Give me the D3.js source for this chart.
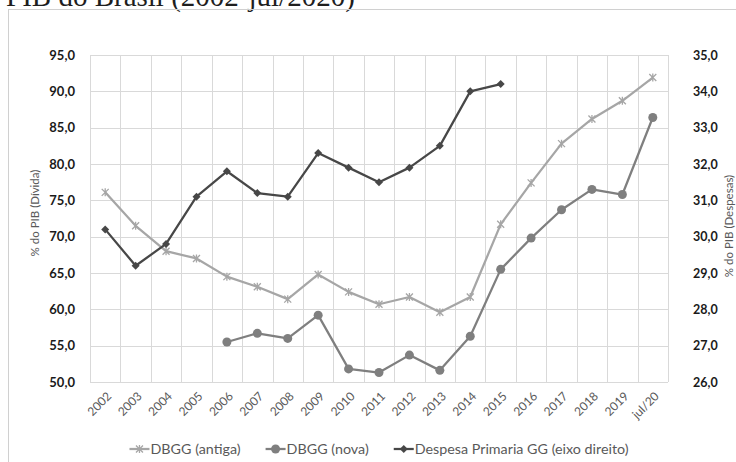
<!DOCTYPE html>
<html><head><meta charset="utf-8">
<script src="https://cdn.jsdelivr.net/npm/d3@7"></script>
<style>body{margin:0;background:#fff}svg{display:block}</style>
</head><body><svg id="c" width="736" height="462"></svg>
<script>
const categories = ["2002","2003","2004","2005","2006","2007","2008","2009","2010","2011","2012","2013","2014","2015","2016","2017","2018","2019","jul/20"];
const dbggAntiga = [76.1,71.5,68.0,67.0,64.5,63.1,61.4,64.8,62.4,60.7,61.7,59.6,61.7,71.7,77.4,82.8,86.2,88.7,91.9];
const dbggNova = [null,null,null,null,55.5,56.7,56.0,59.2,51.8,51.3,53.7,51.6,56.3,65.5,69.8,73.7,76.5,75.8,86.4];
const despesa = [30.2,29.2,29.8,31.1,31.8,31.2,31.1,32.3,31.9,31.5,31.9,32.5,34.0,34.2,null,null,null,null,null];
const leftTicks = [50,55,60,65,70,75,80,85,90,95];
const rightTicks = [26,27,28,29,30,31,32,33,34,35];
const seriesNames = ["DBGG (antiga)","DBGG (nova)","Despesa Primaria GG (eixo direito)"];
const title = "PIB do Brasil (2002-jul/2020)";

const svg = d3.select("#c");
const L=90, R=668, T=55, B=382;
const x = d3.scaleBand().domain(categories).range([L,R]).padding(0);
const cx = c => x(c)+x.bandwidth()/2;
const yL = d3.scaleLinear().domain([50,95]).range([B,T]);
const yR = d3.scaleLinear().domain([26,35]).range([B,T]);
const fmt = v => v.toFixed(1).replace(".",",");
const grid = "#d9d9d9";
const colA="#a6a6a6", colN="#7f7f7f", colD="#474747";
const font = "Lato, 'Open Sans', sans-serif";

// title and border
svg.append("text").attr("x",6).attr("y",6).attr("font-family","'Liberation Serif', 'Times New Roman', serif")
  .attr("font-size",29).attr("fill","#1e1e1e").text(title);
svg.append("rect").attr("x",8.5).attr("y",9.5).attr("width",760).attr("height",480)
  .attr("fill","none").attr("stroke","#d0d0d0");

// grid
const g = svg.append("g");
g.selectAll(".h").data(leftTicks).join("line").attr("x1",L).attr("x2",R)
  .attr("y1",d=>Math.round(yL(d))+0.5).attr("y2",d=>Math.round(yL(d))+0.5).attr("stroke",grid);
const edges = categories.map(c=>x(c)).concat([R]);
g.selectAll(".v").data(edges).join("line").attr("y1",T).attr("y2",B)
  .attr("x1",d=>Math.round(d)+0.5).attr("x2",d=>Math.round(d)+0.5).attr("stroke",grid);

// axes labels
const axL = d3.axisLeft(yL).tickValues(leftTicks).tickFormat(fmt).tickSize(0).tickPadding(15);
const gl = svg.append("g").attr("transform",`translate(${L},0)`).call(axL);
gl.select(".domain").remove();
gl.selectAll("text").attr("font-family",font).attr("font-size",13).attr("font-weight","bold").attr("fill","#1a1a1a");
const axR = d3.axisRight(yR).tickValues(rightTicks).tickFormat(fmt).tickSize(0).tickPadding(25);
const gr = svg.append("g").attr("transform",`translate(${R},0)`).call(axR);
gr.select(".domain").remove();
gr.selectAll("text").attr("font-family",font).attr("font-size",12.5).attr("font-weight","bold").attr("fill","#1a1a1a");

const axB = d3.axisBottom(x).tickSize(0).tickPadding(0);
const gb = svg.append("g").attr("transform",`translate(0,${B})`).call(axB);
gb.select(".domain").remove();
gb.selectAll("text").attr("font-family",font).attr("font-size",12).attr("fill","#595959")
  .attr("text-anchor","end").attr("dy","0.35em")
  .attr("transform","translate(4,12) rotate(-45)");

// axis titles
svg.append("text").attr("transform",`translate(35,213) rotate(-90)`).attr("text-anchor","middle")
  .attr("dy","0.35em").attr("font-family",font).attr("font-size",11.5).attr("fill","#595959").text("% do PIB (Dívida)");
svg.append("text").attr("transform",`translate(729,226) rotate(-90)`).attr("text-anchor","middle")
  .attr("dy","0.35em").attr("font-family",font).attr("font-size",11.5).attr("fill","#595959").text("% do PIB (Despesas)");

// markers
function star(sel, col){ const s=3.5;
  sel.append("path").attr("d",`M${-s},${-s}L${s},${s}M${-s},${s}L${s},${-s}M0,${-s-0.5}L0,${s+0.5}`)
    .attr("stroke",col).attr("stroke-width",1.3).attr("fill","none"); }
function circ(sel,col){ sel.append("circle").attr("r",4.5).attr("fill",col); }
function diam(sel,col){ sel.append("path").attr("d","M0,-4L4,0L0,4L-4,0Z").attr("fill",col); }

const series = [
  {vals:dbggAntiga, y:yL, col:colA, mk:star},
  {vals:dbggNova, y:yL, col:colN, mk:circ},
  {vals:despesa, y:yR, col:colD, mk:diam}
];
series.forEach(s=>{
  const pts = categories.map((c,i)=>({c,v:s.vals[i]})).filter(d=>d.v!=null);
  svg.append("path").datum(pts).attr("fill","none").attr("stroke",s.col).attr("stroke-width",2.25)
    .attr("stroke-linejoin","round")
    .attr("d",d3.line().x(d=>cx(d.c)).y(d=>s.y(d.v)));
  svg.selectAll(null).data(pts).join("g").attr("transform",d=>`translate(${cx(d.c)},${s.y(d.v)})`)
    .each(function(){ s.mk(d3.select(this), s.col); });
});

// legend
const lg = svg.append("g");
let xpos = 0;
const gap = 25;
seriesNames.forEach((n,i)=>{
  const it = lg.append("g").attr("transform",`translate(${xpos},0)`);
  it.append("line").attr("x1",0).attr("x2",20).attr("stroke",series[i].col).attr("stroke-width",2.25);
  const m = it.append("g").attr("transform","translate(10,0)"); series[i].mk(m, series[i].col);
  const t = it.append("text").attr("x",21).attr("dy","0.35em").attr("font-family",font).attr("font-size",14.3)
    .attr("fill","#595959").text(n);
  const w = t.node().getComputedTextLength();
  xpos += 21 + w + gap;
});
const total = xpos - gap;
lg.attr("transform",`translate(${(L+R)/2 - total/2},449)`);
</script></body></html>
